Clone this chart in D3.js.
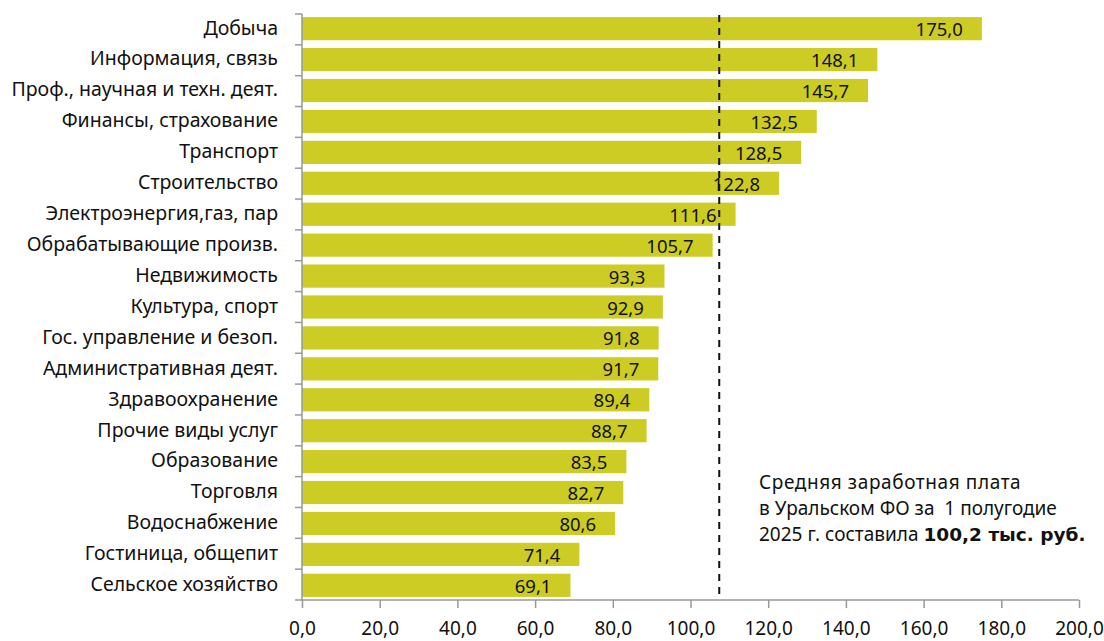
<!DOCTYPE html>
<html><head><meta charset="utf-8">
<script src="https://cdn.jsdelivr.net/npm/d3@7"></script>
<style>body{margin:0;background:#fff}svg{display:block}</style>
</head><body>
<svg id="c" width="1104" height="641"></svg>
<script>
const categories = ["Добыча","Информация, связь","Проф., научная и техн. деят.","Финансы, страхование","Транспорт","Строительство","Электроэнергия,газ, пар","Обрабатывающие произв.","Недвижимость","Культура, спорт","Гос. управление и безоп.","Административная деят.","Здравоохранение","Прочие виды услуг","Образование","Торговля","Водоснабжение","Гостиница, общепит","Сельское хозяйство"];
const values = [175.0,148.1,145.7,132.5,128.5,122.8,111.6,105.7,93.3,92.9,91.8,91.7,89.4,88.7,83.5,82.7,80.6,71.4,69.1];
const xTicks = [0,20,40,60,80,100,120,140,160,180,200];
const refLine = 107.4;
const noteLines = ["Средняя заработная плата","в Уральском ФО за  1 полугодие","2025 г. составила "];
const noteBold = "100,2 тыс. руб.";

const svg = d3.select("#c");
const fmt = v => d3.format(".1f")(v).replace(".", ",");
const x = d3.scaleLinear().domain([0,200]).range([302,1079]);
const y = d3.scaleBand().domain(categories).range([14,600]).paddingInner(0.25).paddingOuter(0.1);
const font = "'Noto Sans', sans-serif";

// bars
svg.append("g").selectAll("rect").data(values).join("rect")
  .attr("x", x(0)).attr("y", (d,i)=>y(categories[i]))
  .attr("width", d=>x(d)-x(0)).attr("height", y.bandwidth())
  .attr("fill", "#cccc24");

// reference dashed line
svg.append("line").attr("x1", x(refLine)).attr("x2", x(refLine)).attr("y1", 15).attr("y2", 594)
  .attr("stroke", "#111").attr("stroke-width", 2).attr("stroke-dasharray", "7,6");

// value labels
svg.append("g").selectAll("text").data(values).join("text")
  .attr("x", d=>x(d)-19).attr("y", (d,i)=>y(categories[i])+y.bandwidth()/2+7.5)
  .attr("text-anchor","end").attr("font-family",font).attr("font-size",18.5).attr("fill","#111")
  .text(d=>fmt(d));

// y axis
const yAxis = d3.axisLeft(y).tickSize(0).tickPadding(24);
const gy = svg.append("g").attr("transform", `translate(${x(0)},0)`).call(yAxis);
gy.select(".domain").attr("stroke","#999").attr("stroke-width",1.5).attr("d","M0,14V600");
gy.selectAll("text").attr("font-family",font).attr("font-size",19.5).attr("fill","#111").attr("dy","0.3em");
// boundary ticks on y axis
const bounds = d3.range(categories.length+1).map(i => 14 + (600-14)*i/categories.length);
svg.append("g").selectAll("line").data(bounds).join("line")
  .attr("x1", x(0)-7).attr("x2", x(0)).attr("y1", d=>d).attr("y2", d=>d)
  .attr("stroke","#999").attr("stroke-width",1.5);

// x axis
const xAxis = d3.axisBottom(x).tickValues(xTicks).tickSize(8).tickPadding(14).tickFormat(fmt);
const gx = svg.append("g").attr("transform","translate(0,600)").call(xAxis);
gx.select(".domain").attr("stroke","#999").attr("stroke-width",1.5).attr("d",`M${x(0)},0H${x(200)}`);
gx.selectAll(".tick line").attr("stroke","#999").attr("stroke-width",1.5);
gx.selectAll("text").attr("font-family",font).attr("font-size",19).attr("fill","#111");

// annotation
const note = svg.append("g").attr("font-family",font).attr("font-size",19).attr("fill","#111");
noteLines.forEach((t,i)=>{
  const tx = note.append("text").attr("x",759).attr("y",489+i*26).attr("xml:space","preserve")
    .attr("letter-spacing", i===0 ? 0.6 : 0).text(t);
  if (i===2) tx.append("tspan").attr("font-family","'DejaVu Sans', sans-serif").attr("font-weight","bold").attr("font-size",18.5).text(noteBold);
});
</script>
</body></html>
